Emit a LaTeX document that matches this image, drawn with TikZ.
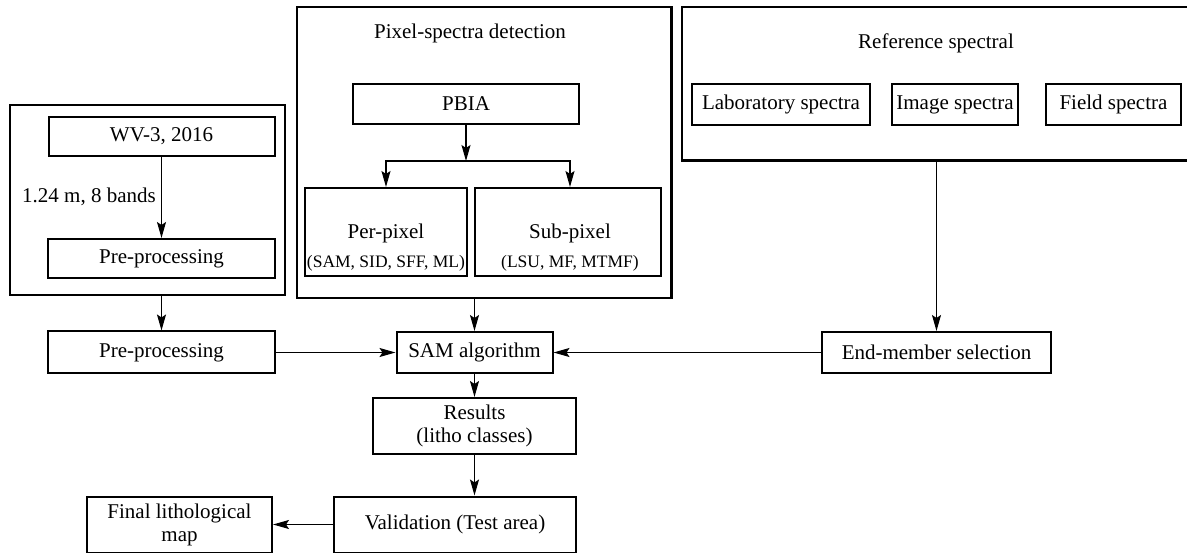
\documentclass[tikz,border=0pt]{standalone}
\usepackage{fontspec}
\setmainfont{Liberation Serif}
\usetikzlibrary{arrows.meta}
\begin{document}
\begin{tikzpicture}[x=1pt,y=-1pt,
  box/.style={draw, line width=2pt, inner sep=0pt, align=center,
              font=\fontsize{21}{23}\selectfont},
  frame/.style={draw, line width=2.2pt, inner sep=0pt},
  txt/.style={inner sep=0pt, font=\fontsize{21}{23}\selectfont},
  small/.style={inner sep=0pt, font=\fontsize{17.5}{20}\selectfont},
  arr/.style={line width=1.3pt, -{Stealth[length=16pt,width=9pt,inset=3pt]}},
  ln/.style={line width=1.3pt}]
\useasboundingbox (0,0) rectangle (1187,553);
\fill[white] (0,0) rectangle (1187,553);

% left group
\node[frame, minimum width=275pt, minimum height=190pt] (outerL) at (147.5,200) {};
\node[box, minimum width=226pt, minimum height=39pt] (wv) at (161.5,136.5) {WV-3, 2016};
\node[box, minimum width=227pt, minimum height=39pt] (pre1) at (161.5,258.5) {Pre-processing};
\node[txt, anchor=east] (bands) at (156,197) {1.24 m, 8 bands};
\draw[arr] (wv) -- (pre1);

% middle group
\node[frame, minimum width=374.5pt, minimum height=291pt] (mid) at (484.25,152.5) {};
\node[txt] (midtitle) at (470,33) {Pixel-spectra detection};
\node[box, minimum width=226pt, minimum height=40pt] (pbia) at (466,104) {PBIA};
\coordinate (junc) at (466,161);
\node[box, minimum width=162pt, minimum height=88pt] (perpix) at (386,232) {};
\node[txt] (perpixA) at (386,233) {Per-pixel};
\node[small] (perpixB) at (386,263) {(SAM, SID, SFF, ML)};
\node[box, minimum width=186pt, minimum height=88pt] (subpix) at (568,232) {};
\node[txt] (subpixA) at (570,233) {Sub-pixel};
\node[small] (subpixB) at (570,263) {(LSU, MF, MTMF)};
\draw[arr] (pbia) -- (junc);
\draw[arr] (junc) -| (perpix.north);
\draw[arr] (junc) -| ([xshift=2pt]subpix.north);

% right group
\node[frame, minimum width=510pt, minimum height=153.5pt] (ref) at (937,83.75) {};
\node[txt] (reftitle) at (936,43) {Reference spectral};
\node[box, minimum width=178pt, minimum height=41pt] (lab) at (781,104.5) {Laboratory spectra};
\node[box, minimum width=126pt, minimum height=41pt] (img) at (955,104.5) {Image spectra};
\node[box, minimum width=135pt, minimum height=41pt] (field) at (1113.5,104.5) {Field spectra};

% lower flow
\node[box, minimum width=227pt, minimum height=42pt] (pre2) at (161.5,352.5) {Pre-processing};
\node[box, minimum width=156pt, minimum height=41pt] (sam) at (474.5,352.5) {SAM algorithm};
\node[box, minimum width=229pt, minimum height=41pt] (endm) at (936.5,352.5) {End-member selection};
\node[box, minimum width=203pt, minimum height=56pt] (res) at (474.5,426) {Results\\(litho classes)};
\node[box, minimum width=242pt, minimum height=56pt] (val) at (455,524.5) {Validation (Test area)};
\node[box, minimum width=185pt, minimum height=56pt] (final) at (179.5,524.5) {Final lithological\\map};

\draw[arr] (pre2.north |- outerL.south) -- (pre2.north);
\draw[arr] (sam.north |- mid.south) -- (sam.north);
\draw[arr] (endm.north |- ref.south) -- (endm.north);
\draw[arr] (pre2) -- (sam);
\draw[arr] (endm) -- (sam);
\draw[arr] (sam) -- (res);
\draw[arr] (res.south) -- (res.south |- val.north);
\draw[arr] (val) -- (final);
\end{tikzpicture}
\end{document}
